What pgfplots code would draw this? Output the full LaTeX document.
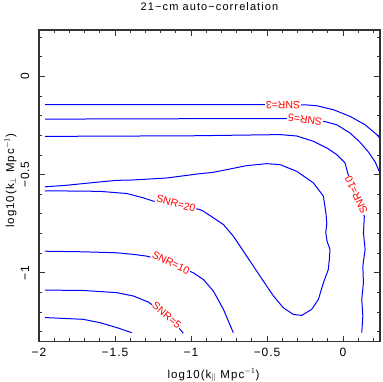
\documentclass[border=0pt]{standalone}
\usepackage{fontspec}
\setmainfont{Liberation Sans}
\usepackage{pgfplots}
\pgfplotsset{compat=1.18}

\tikzset{
  snr/.style={text=red, fill=white, inner sep=0.8pt, font=\fontsize{10.5}{12}\selectfont},
  ct/.style={blue, solid, mark=none, line width=1pt, line join=round},
}

\begin{document}
\begin{tikzpicture}
\begin{axis}[
    scale only axis,
    width=341pt,
    height=311.7pt,
    xmin=-2, xmax=0.243,
    ymin=-1.351, ymax=0.237,
    axis line style={draw=black!80, line width=1.1pt},
    tick style={draw=black!80, line width=0.9pt},
    tick align=inside,
    major tick length=6pt,
    minor tick length=3.5pt,
    xtick={-2,-1.5,-1,-0.5,0},
    xticklabels={−2,−1.5,−1,−0.5,0},
    ytick={-1,-0.5,0},
    yticklabels={−1,−0.5,0},
    minor xtick={-1.9,-1.8,-1.7,-1.6,-1.4,-1.3,-1.2,-1.1,-0.9,-0.8,-0.7,-0.6,-0.4,-0.3,-0.2,-0.1,0.1,0.2},
    minor ytick={-1.3,-1.2,-1.1,-0.9,-0.8,-0.7,-0.6,-0.4,-0.3,-0.2,-0.1,0.1,0.2},
    tick label style={font=\fontsize{12}{14}\selectfont\addfontfeatures{LetterSpace=8}},
    xticklabel style={anchor=center, yshift=-10.3pt},
    yticklabel style={xshift=-14pt, rotate=90, anchor=center},
    title={21−cm  auto−correlation},
    title style={at={(0.5,1)}, anchor=center, yshift=17.5pt, font=\fontsize{11}{13}\selectfont\addfontfeatures{LetterSpace=10}},
    xlabel={log10(k$_{\|}$ Mpc$^{-1}$)},
    ylabel={log10(k$_{\perp}$ Mpc$^{-1}$)},
    xlabel style={at={(axis description cs:0.5,0)}, anchor=center, xshift=4pt, yshift=-33.5pt, font=\fontsize{11.5}{13}\selectfont\addfontfeatures{LetterSpace=9}},
    ylabel style={at={(axis description cs:0,0.5)}, anchor=center, xshift=5pt, yshift=28.5pt, font=\fontsize{11.5}{13}\selectfont\addfontfeatures{LetterSpace=9}},
]
% SNR=3
\addplot[ct] coordinates {(-1.96,-0.143) (-1.0,-0.143) (-0.5,-0.143) (-0.25,-0.144) (-0.173,-0.149) (-0.064,-0.169) (0.046,-0.203) (0.145,-0.246) (0.222,-0.296) (0.26,-0.33)};
% SNR=5
\addplot[ct] coordinates {(-1.96,-0.217) (-1.0,-0.215) (-0.25,-0.214) (-0.118,-0.230) (-0.041,-0.246) (0.046,-0.288) (0.112,-0.335) (0.167,-0.385) (0.211,-0.435) (0.239,-0.485) (0.26,-0.52)};
% SNR=10 (upper and right)
\addplot[ct] coordinates {(-1.96,-0.305) (-1.0,-0.302) (-0.414,-0.296) (-0.305,-0.303) (-0.195,-0.330) (-0.107,-0.364) (-0.041,-0.398) (0.013,-0.440) (0.030,-0.491) (0.14,-0.712) (0.134,-0.796) (0.145,-0.881) (0.13,-0.966) (0.134,-1.05) (0.123,-1.135) (0.13,-1.22) (0.123,-1.305)};
% SNR=20 loop
\addplot[ct] coordinates {(-1.961,-0.582) (-1.599,-0.585) (-1.423,-0.596) (-1.314,-0.618) (-1.248,-0.635) (-1.099,-0.652) (-0.941,-0.678) (-0.919,-0.686) (-0.787,-0.754) (-0.722,-0.813) (-0.634,-0.915) (-0.546,-1.017) (-0.458,-1.118) (-0.393,-1.178) (-0.327,-1.212) (-0.272,-1.217) (-0.206,-1.186) (-0.162,-1.135) (-0.129,-1.050) (-0.097,-0.983) (-0.090,-0.930) (-0.086,-0.881) (-0.105,-0.840) (-0.114,-0.796) (-0.107,-0.750) (-0.112,-0.700) (-0.118,-0.669) (-0.129,-0.610) (-0.195,-0.542) (-0.305,-0.483) (-0.414,-0.449) (-0.502,-0.444) (-0.634,-0.454) (-0.853,-0.488) (-0.941,-0.495) (-1.160,-0.517) (-1.380,-0.527) (-1.489,-0.529) (-1.599,-0.537) (-1.818,-0.554) (-1.961,-0.562)};
% SNR=10 (lower)
\addplot[ct] coordinates {(-1.961,-0.890) (-1.709,-0.893) (-1.489,-0.898) (-1.380,-0.906) (-1.291,-0.915) (-1.132,-0.950) (-0.985,-1.000) (-0.919,-1.034) (-0.853,-1.093) (-0.787,-1.186) (-0.722,-1.305)};
% SNR=5 (lower)
\addplot[ct] coordinates {(-1.961,-1.088) (-1.709,-1.090) (-1.489,-1.101) (-1.380,-1.118) (-1.281,-1.149) (-1.16,-1.216) (-1.072,-1.288) (-1.051,-1.308)};
% lowest contour
\addplot[ct] coordinates {(-1.961,-1.228) (-1.709,-1.237) (-1.599,-1.254) (-1.489,-1.279) (-1.390,-1.305)};

\node[snr, rotate=180] at (axis cs:-0.395,-0.144) {SNR=3};
\node[snr, rotate=172] at (axis cs:-0.25,-0.218) {SNR=5};
\node[snr, rotate=115] at (axis cs:0.087,-0.605) {SNR=10};
\node[snr, rotate=-16] at (axis cs:-1.099,-0.646) {SNR=20};
\node[snr, rotate=-26] at (axis cs:-1.132,-0.948) {SNR=10};
\node[snr, rotate=-40] at (axis cs:-1.16,-1.216) {SNR=5};
\end{axis}
\pgfresetboundingbox
\path[use as bounding box] (current axis.south west) ++(-39pt,-40.3pt) rectangle ++(382pt,382pt);
\end{tikzpicture}
\end{document}
